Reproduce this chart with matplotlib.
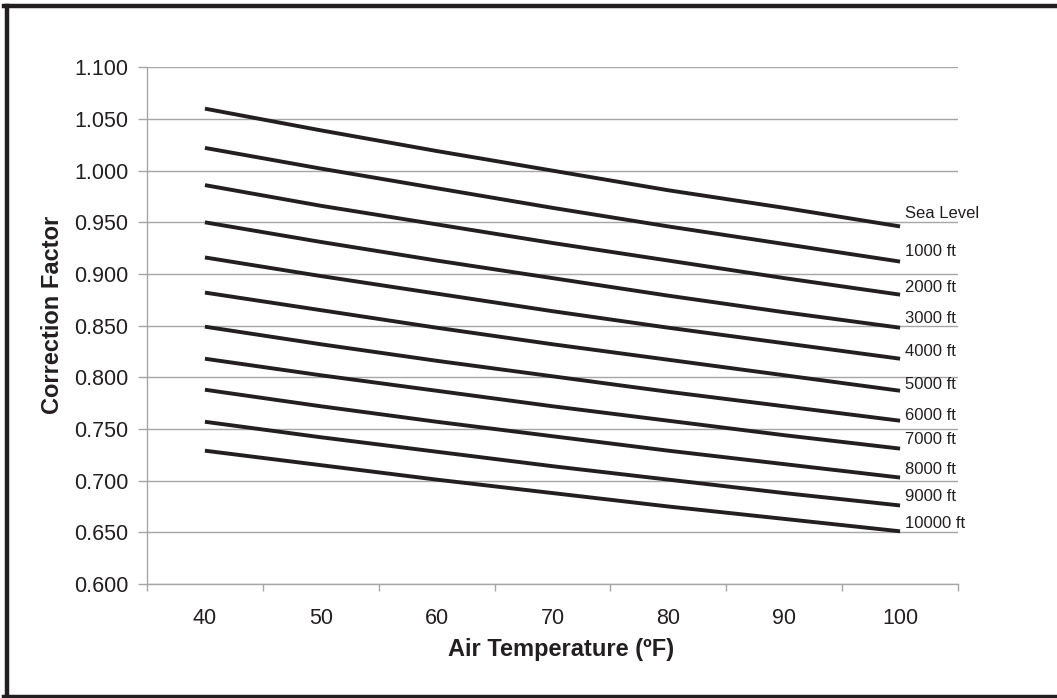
import matplotlib
matplotlib.use('Agg')
import matplotlib.pyplot as plt
from matplotlib.lines import Line2D
from matplotlib.ticker import FixedLocator, MultipleLocator, FormatStrFormatter

# ---- data ----
temps = ['40', '50', '60', '70', '80', '90', '100']
altitudes = ['Sea Level', '1000 ft', '2000 ft', '3000 ft', '4000 ft', '5000 ft',
             '6000 ft', '7000 ft', '8000 ft', '9000 ft', '10000 ft']
sea_level = [1.060, 1.039, 1.019, 1.000, 0.981, 0.964, 0.946]
ft_1000 = [1.022, 1.002, 0.983, 0.964, 0.946, 0.929, 0.912]
ft_2000 = [0.986, 0.966, 0.948, 0.930, 0.913, 0.896, 0.880]
ft_3000 = [0.950, 0.931, 0.913, 0.896, 0.879, 0.863, 0.848]
ft_4000 = [0.916, 0.898, 0.881, 0.864, 0.848, 0.833, 0.818]
ft_5000 = [0.882, 0.865, 0.848, 0.832, 0.817, 0.802, 0.787]
ft_6000 = [0.849, 0.832, 0.816, 0.801, 0.786, 0.772, 0.758]
ft_7000 = [0.818, 0.802, 0.787, 0.772, 0.758, 0.744, 0.731]
ft_8000 = [0.788, 0.772, 0.757, 0.743, 0.729, 0.716, 0.703]
ft_9000 = [0.757, 0.742, 0.728, 0.714, 0.701, 0.688, 0.676]
ft_10000 = [0.729, 0.715, 0.701, 0.688, 0.675, 0.663, 0.651]
series = [sea_level, ft_1000, ft_2000, ft_3000, ft_4000, ft_5000,
          ft_6000, ft_7000, ft_8000, ft_9000, ft_10000]

# label offsets above line end (pixels) - styling only
label_dy_px = [14, 12, 9, 11, 9, 8, 7, 11, 10, 10, 9.5]

plt.rcParams['font.family'] = ['Liberation Sans', 'DejaVu Sans']

W, H = 1057, 698
fig = plt.figure(figsize=(W / 100, H / 100), dpi=100)
fig.patch.set_facecolor('white')
ax = fig.add_axes([147 / W, 1 - 584 / H, 811 / W, (584 - 67.3) / H])

line_color = '#231f20'
grid_color = '#a6a6a6'

for vals, name, dy in zip(series, altitudes, label_dy_px):
    ax.plot(temps, vals, color=line_color, lw=2.8, solid_capstyle='butt', zorder=3)
    ax.annotate(name, xy=(temps[-1], vals[-1]), xytext=(5, dy - 1.5),
                textcoords='offset pixels', fontsize=12, color=line_color,
                ha='left', va='center', annotation_clip=False)

ax.set_xlim(-0.5, len(temps) - 0.5)
ax.set_ylim(0.6, 1.1)
ax.yaxis.set_major_locator(MultipleLocator(0.05))
ax.yaxis.set_major_formatter(FormatStrFormatter('%.3f'))
ax.yaxis.grid(True, color=grid_color, lw=1.0)
ax.set_axisbelow(True)

for s in ['top', 'right']:
    ax.spines[s].set_visible(False)
for s in ['left', 'bottom']:
    ax.spines[s].set_color(grid_color)
    ax.spines[s].set_linewidth(1.0)

ax.tick_params(axis='y', direction='out', length=6.5, width=1.0, color=grid_color,
               labelsize=15.5, pad=7, labelcolor=line_color)
ax.tick_params(axis='x', which='major', length=0, labelsize=15.5, pad=17,
               labelcolor=line_color)
ax.xaxis.set_minor_locator(FixedLocator([i - 0.5 for i in range(len(temps) + 1)]))
ax.tick_params(axis='x', which='minor', direction='out', length=5, width=1.0,
               color=grid_color)

ax.set_xlabel('Air Temperature (ºF)', fontsize=17, fontweight='bold', color=line_color)
ax.xaxis.set_label_coords(0.510, -0.1045)
ax.set_ylabel('Correction Factor', fontsize=17, fontweight='bold', color=line_color)
ax.yaxis.set_label_coords(-0.102, 0.521)

# outer frame (top, left, bottom)
def px(x, y):
    return x / W, 1 - y / H

for (x0, y0), (x1, y1) in [((4, 6), (W, 6)), ((7, 6), (7, H)), ((4, 696.5), (W, 696.5))]:
    a, b = px(x0, y0)
    c, d = px(x1, y1)
    fig.add_artist(Line2D([a, c], [b, d], transform=fig.transFigure,
                          color=line_color, lw=3.2, solid_capstyle='projecting'))

fig.savefig('out.png', dpi=100)
